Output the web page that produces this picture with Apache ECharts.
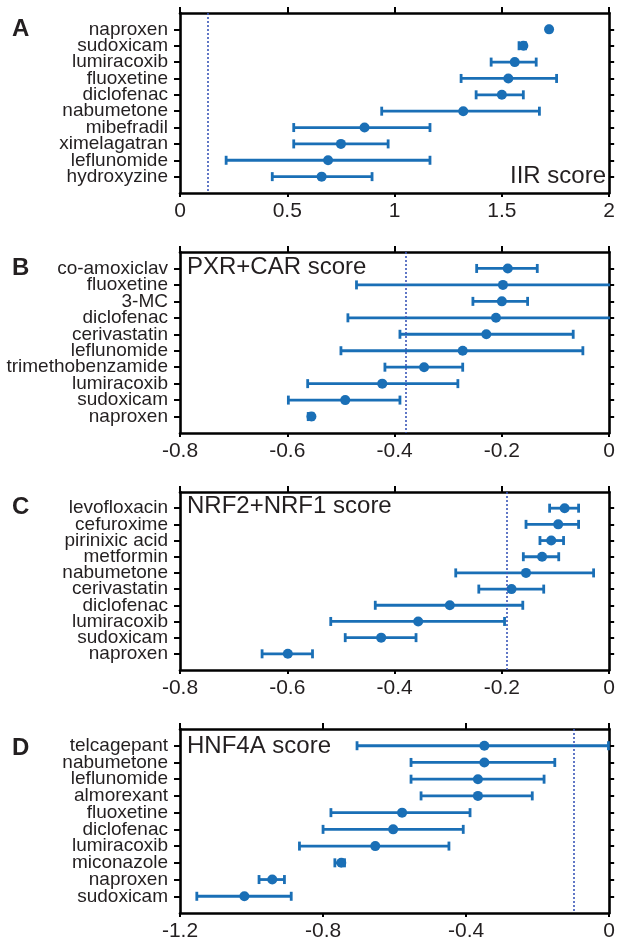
<!DOCTYPE html>
<html>
<head>
<meta charset="utf-8">
<script src="https://cdn.jsdelivr.net/npm/echarts@6/dist/echarts.min.js"></script>
<style>
html,body{margin:0;padding:0;background:#fff;}
#chart{width:618px;height:942px;}
</style>
</head>
<body>
<div id="chart"></div>
<script>
// ---- Panel A: IIR score ----
const namesA = ['naproxen','sudoxicam','lumiracoxib','fluoxetine','diclofenac','nabumetone','mibefradil','ximelagatran','leflunomide','hydroxyzine'];
const meanA  = [1.72, 1.60, 1.56, 1.53, 1.50, 1.32, 0.86, 0.75, 0.69, 0.66];
const lowA   = [1.72, 1.58, 1.45, 1.31, 1.38, 0.94, 0.53, 0.53, 0.215, 0.43];
const highA  = [1.72, 1.61, 1.66, 1.755, 1.60, 1.675, 1.165, 0.97, 1.165, 0.895];
const refA = 0.13;
const ticksA = [0, 2, 0.5];

// ---- Panel B: PXR+CAR score ----
const namesB = ['co-amoxiclav','fluoxetine','3-MC','diclofenac','cerivastatin','leflunomide','trimethobenzamide','lumiracoxib','sudoxicam','naproxen'];
const meanB  = [-0.189, -0.198, -0.200, -0.211, -0.229, -0.273, -0.345, -0.423, -0.492, -0.555];
const lowB   = [-0.247, -0.471, -0.254, -0.487, -0.390, -0.500, -0.418, -0.562, -0.598, -0.561];
const highB  = [-0.134, 0.05, -0.152, 0.05, -0.067, -0.049, -0.273, -0.282, -0.390, -0.552];
const refB = -0.38;
const ticksB = [-0.8, 0, 0.2];

// ---- Panel C: NRF2+NRF1 score ----
const namesC = ['levofloxacin','cefuroxime','pirinixic acid','metformin','nabumetone','cerivastatin','diclofenac','lumiracoxib','sudoxicam','naproxen'];
const meanC  = [-0.083, -0.095, -0.108, -0.125, -0.155, -0.182, -0.297, -0.356, -0.425, -0.599];
const lowC   = [-0.111, -0.155, -0.129, -0.160, -0.286, -0.243, -0.436, -0.519, -0.492, -0.647];
const highC  = [-0.057, -0.057, -0.085, -0.094, -0.029, -0.122, -0.161, -0.195, -0.360, -0.553];
const refC = -0.19;
const ticksC = [-0.8, 0, 0.2];

// ---- Panel D: HNF4A score ----
const namesD = ['telcagepant','nabumetone','leflunomide','almorexant','fluoxetine','diclofenac','lumiracoxib','miconazole','naproxen','sudoxicam'];
const meanD  = [-0.349, -0.349, -0.367, -0.367, -0.579, -0.604, -0.654, -0.749, -0.942, -1.020];
const lowD   = [-0.705, -0.554, -0.554, -0.526, -0.778, -0.800, -0.866, -0.767, -0.979, -1.153];
const highD  = [-0.002, -0.152, -0.182, -0.215, -0.389, -0.408, -0.448, -0.740, -0.908, -0.889];
const refD = -0.10;
const ticksD = [-1.2, 0, 0.4];

const letters = ['A','B','C','D'];
const scoreLabels = ['IIR score','PXR+CAR score','NRF2+NRF1 score','HNF4A score'];

const panels = [
  {names:namesA, mean:meanA, low:lowA, high:highA, ref:refA, ticks:ticksA},
  {names:namesB, mean:meanB, low:lowB, high:highB, ref:refB, ticks:ticksB},
  {names:namesC, mean:meanC, low:lowC, high:highC, ref:refC, ticks:ticksC},
  {names:namesD, mean:meanD, low:lowD, high:highD, ref:refD, ticks:ticksD}
];

// layout
const gridTops = [13, 252, 492, 729];
const gridHeights = [180, 181, 178, 184];
const letterTops = [17, 256, 495, 736];
const FONT = '"Liberation Sans", Arial, Helvetica, sans-serif';
const BLUE = '#1a6fb6';
const TXT = '#231f20';

const chart = echarts.init(document.getElementById('chart'), null, {renderer:'canvas'});

function errRender(params, api) {
  const y = api.value(0), lo = api.value(1), hi = api.value(2);
  const p1 = api.coord([lo, y]);
  const p2 = api.coord([hi, y]);
  const cap = 4.5;
  const style = {stroke: BLUE, lineWidth: 2.8, fill: null};
  return {
    type: 'group',
    children: [
      {type:'line', shape:{x1:p1[0], y1:p1[1], x2:p2[0], y2:p2[1]}, style: style},
      {type:'line', shape:{x1:p1[0], y1:p1[1]-cap, x2:p1[0], y2:p1[1]+cap}, style: style},
      {type:'line', shape:{x1:p2[0], y1:p2[1]-cap, x2:p2[0], y2:p2[1]+cap}, style: style}
    ]
  };
}

const grid = [], xAxis = [], yAxis = [], series = [], title = [];
const catPos = [1,2,3,4,5,6,7,8,9,10];
const labelPos = [0,1,2,3,4,5,6,7,8,9,10,11];

panels.forEach((p, i) => {
  grid.push({left:180, right:6, top:gridTops[i], height:gridHeights[i]});
  const axLine = {show:true, onZero:false, lineStyle:{color:'#000', width:2.6}};
  // bottom x
  xAxis.push({
    type:'value', gridIndex:i, position:'bottom', min:p.ticks[0], max:p.ticks[1], interval:p.ticks[2],
    axisLine: axLine,
    axisTick:{show:true, inside:false, length:4, lineStyle:{color:'#000', width:2}},
    axisLabel:{show:true, fontSize:21, color:TXT, fontFamily:FONT, margin:8, showMinLabel:true, showMaxLabel:true},
    splitLine:{show:false}
  });
  // top x
  xAxis.push({
    type:'value', gridIndex:i, position:'top', min:p.ticks[0], max:p.ticks[1], interval:p.ticks[2],
    axisLine: axLine,
    axisTick:{show:true, inside:false, length:6, lineStyle:{color:'#000', width:2}},
    axisLabel:{show:false},
    splitLine:{show:false}
  });
  // left y
  yAxis.push({
    type:'value', gridIndex:i, position:'left', min:0, max:11, inverse:true,
    axisLine: axLine,
    axisTick:{show:true, length:6, customValues:catPos, lineStyle:{color:'#000', width:2}},
    axisLabel:{show:true, customValues:labelPos, fontSize:19, color:TXT, fontFamily:FONT, margin:12,
      showMinLabel:false, showMaxLabel:false, hideOverlap:false,
      formatter: (v) => p.names[Math.round(v)-1] || ''},
    splitLine:{show:false}
  });
  // right y
  yAxis.push({
    type:'value', gridIndex:i, position:'right', min:0, max:11, inverse:true,
    axisLine: axLine,
    axisTick:{show:true, length:5, customValues:catPos, lineStyle:{color:'#000', width:2}},
    axisLabel:{show:false},
    splitLine:{show:false}
  });

  const errData = p.names.map((n, k) => [k+1, p.low[k], p.high[k]]);
  const dotData = p.names.map((n, k) => [p.mean[k], k+1]);

  series.push({
    type:'custom', xAxisIndex:2*i, yAxisIndex:2*i, renderItem: errRender,
    encode:{x:[1,2], y:0}, data: errData, clip:true, z:2, silent:true
  });
  series.push({
    type:'scatter', xAxisIndex:2*i, yAxisIndex:2*i, data: dotData,
    symbol:'circle', symbolSize:10, itemStyle:{color:BLUE, opacity:1}, z:3, silent:true,
    markLine:{
      silent:true, symbol:['none','none'], label:{show:false},
      lineStyle:{type:[2,2], color:'#3a56b8', width:1.6},
      data:[{xAxis:p.ref}], animation:false
    }
  });

  title.push({
    text: letters[i], left: 12, top: letterTops[i], padding:0,
    textStyle:{fontSize:24, fontWeight:'bold', color:TXT, fontFamily:FONT}
  });
});

// score labels
title.push({text:scoreLabels[0], right:12, top:164, padding:0,
  textStyle:{fontSize:24, fontWeight:'normal', color:TXT, fontFamily:FONT}});
title.push({text:scoreLabels[1], left:187, top:255, padding:0,
  textStyle:{fontSize:24, fontWeight:'normal', color:TXT, fontFamily:FONT}});
title.push({text:scoreLabels[2], left:187, top:494, padding:0,
  textStyle:{fontSize:24, fontWeight:'normal', color:TXT, fontFamily:FONT}});
title.push({text:scoreLabels[3], left:187, top:734, padding:0,
  textStyle:{fontSize:24, fontWeight:'normal', color:TXT, fontFamily:FONT}});

chart.setOption({
  animation:false,
  backgroundColor:'#ffffff',
  title, grid, xAxis, yAxis, series
});
</script>
</body>
</html>
